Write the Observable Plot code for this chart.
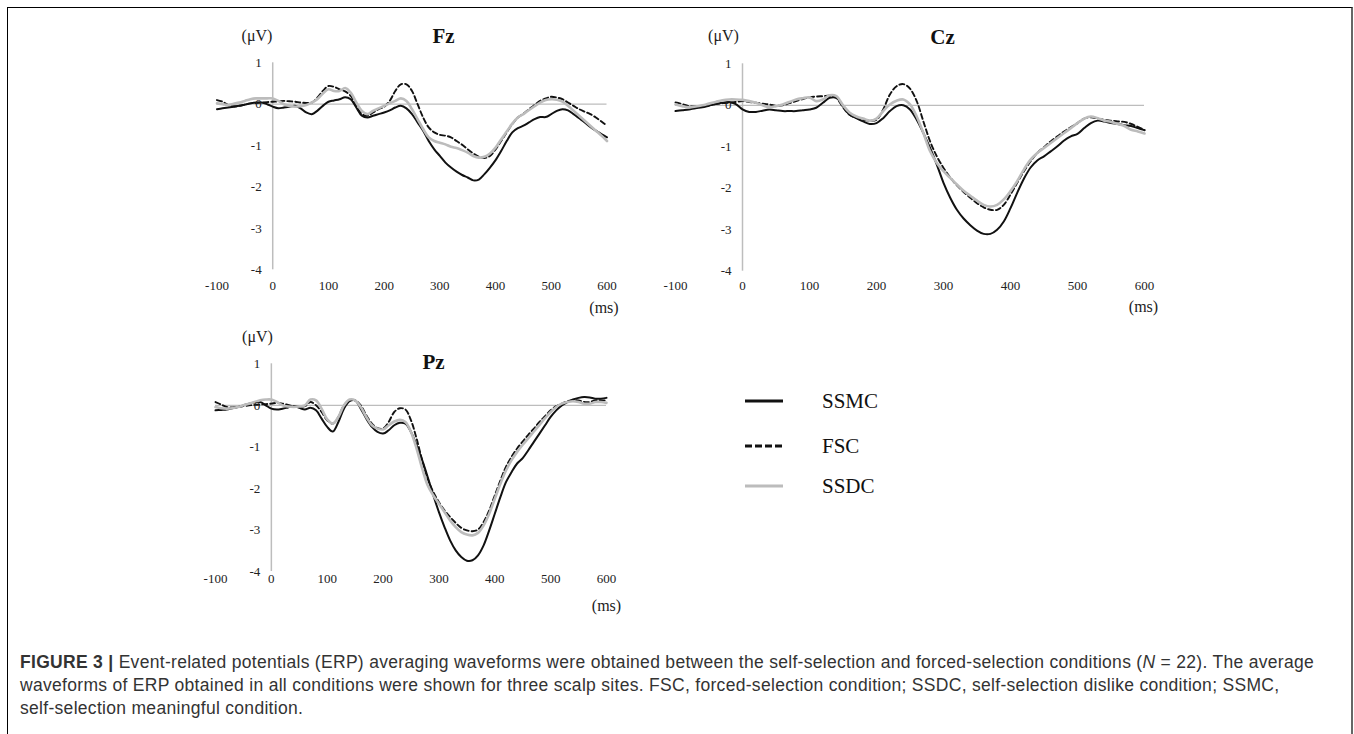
<!DOCTYPE html>
<html><head><meta charset="utf-8">
<script src="https://cdn.jsdelivr.net/npm/d3@7"></script>
<script src="https://cdn.jsdelivr.net/npm/@observablehq/plot@0.6"></script>
<style>
body{margin:0;background:#fff;}
#fig{position:relative;width:1354px;height:734px;overflow:hidden;background:#fff;}
#frame{position:absolute;left:7px;top:7px;width:1346px;height:780px;border:1.5px solid #000;border-right:2px solid #666;box-sizing:border-box;}
.panel{position:absolute;}
#legend{position:absolute;left:730px;top:370px;}
#caption{position:absolute;left:20px;top:651px;font-family:"Liberation Sans",Arial,sans-serif;font-size:17.5px;letter-spacing:0.3px;line-height:23px;color:#333;white-space:nowrap;}
</style></head><body>
<div id="fig">
<div id="frame"></div>
<div id="fz" class="panel" style="left:150px;top:0px"></div>
<div id="cz" class="panel" style="left:610px;top:0px"></div>
<div id="pz" class="panel" style="left:150px;top:320px"></div>
<div id="legend"></div>
<div id="caption"><b>FIGURE 3 |</b> Event-related potentials (ERP) averaging waveforms were obtained between the self-selection and forced-selection conditions (<i>N</i> = 22). The average<br>waveforms of ERP obtained in all conditions were shown for three scalp sites. FSC, forced-selection condition; SSDC, self-selection dislike condition; SSMC,<br>self-selection meaningful condition.</div>
</div>
<script>
const conditions = ["SSMC", "FSC", "SSDC"];
const xTicks = [-100, 0, 100, 200, 300, 400, 500, 600];
const yTicks = [1, 0, -1, -2, -3, -4];
const times = [-100,-90,-80,-70,-60,-50,-40,-30,-20,-10,
  0,10,20,30,40,50,60,70,80,90,
  100,110,120,130,140,150,160,170,180,190,
  200,210,220,230,240,250,260,270,280,290,
  300,310,320,330,340,350,360,370,380,390,
  400,410,420,430,440,450,460,470,480,490,
  500,510,520,530,540,550,560,570,580,590,600];

// Fz
const fzSSMC = [-0.12,-0.10,-0.08,-0.06,-0.04,-0.01,0.02,0.04,0.04,0.00,
  -0.06,-0.10,-0.08,-0.06,-0.04,-0.10,-0.20,-0.24,-0.16,-0.04,
  0.06,0.09,0.12,0.17,0.12,-0.08,-0.28,-0.32,-0.28,-0.24,
  -0.20,-0.15,-0.08,-0.04,-0.10,-0.24,-0.44,-0.64,-0.89,-1.09,
  -1.25,-1.41,-1.53,-1.63,-1.71,-1.77,-1.84,-1.82,-1.69,-1.53,
  -1.35,-1.13,-0.89,-0.68,-0.58,-0.52,-0.44,-0.36,-0.31,-0.31,
  -0.24,-0.16,-0.12,-0.15,-0.24,-0.34,-0.44,-0.55,-0.64,-0.72,-0.80];
const fzFSC = [0.10,0.06,-0.02,-0.05,-0.04,-0.01,0.02,0.03,0.04,0.05,
  0.06,0.07,0.08,0.07,0.06,0.04,0.03,0.04,0.16,0.32,
  0.44,0.42,0.36,0.31,0.20,-0.04,-0.24,-0.28,-0.20,-0.12,
  -0.06,0.08,0.32,0.48,0.48,0.32,0.00,-0.32,-0.56,-0.68,
  -0.74,-0.76,-0.80,-0.89,-0.98,-1.09,-1.19,-1.27,-1.30,-1.25,
  -1.09,-0.89,-0.68,-0.48,-0.32,-0.23,-0.12,-0.02,0.08,0.14,
  0.18,0.16,0.12,0.04,-0.04,-0.12,-0.18,-0.24,-0.32,-0.42,-0.52];
const fzSSDC = [0.02,0.00,-0.02,0.01,0.04,0.08,0.12,0.14,0.14,0.14,
  0.14,0.08,0.00,-0.04,-0.06,-0.05,-0.02,0.04,0.12,0.26,
  0.36,0.32,0.32,0.39,0.28,0.04,-0.16,-0.24,-0.16,-0.10,
  -0.04,0.02,0.08,0.14,0.08,-0.12,-0.36,-0.60,-0.80,-0.89,
  -0.93,-0.97,-1.03,-1.06,-1.11,-1.17,-1.25,-1.29,-1.27,-1.19,
  -1.05,-0.85,-0.66,-0.47,-0.32,-0.24,-0.14,-0.05,0.04,0.10,
  0.12,0.11,0.06,-0.04,-0.16,-0.28,-0.40,-0.52,-0.64,-0.76,-0.89];

// Cz
const czSSMC = [-0.14,-0.12,-0.10,-0.07,-0.05,-0.01,0.03,0.06,0.08,0.03,
  -0.10,-0.16,-0.16,-0.13,-0.10,-0.12,-0.14,-0.14,-0.14,-0.12,
  -0.10,-0.06,0.06,0.18,0.18,-0.02,-0.23,-0.31,-0.39,-0.45,
  -0.43,-0.31,-0.14,-0.02,0.00,-0.10,-0.35,-0.67,-1.03,-1.43,
  -1.87,-2.23,-2.52,-2.73,-2.89,-3.02,-3.10,-3.10,-3.00,-2.80,
  -2.48,-2.11,-1.77,-1.50,-1.33,-1.23,-1.11,-0.99,-0.85,-0.75,
  -0.69,-0.55,-0.43,-0.37,-0.39,-0.43,-0.45,-0.48,-0.50,-0.55,-0.60];
const czFSC = [0.07,0.03,-0.02,-0.03,-0.02,0.00,0.03,0.05,0.06,0.08,
  0.10,0.08,0.06,0.04,0.02,-0.01,0.00,0.05,0.10,0.15,
  0.19,0.21,0.22,0.23,0.18,-0.05,-0.23,-0.31,-0.35,-0.37,
  -0.35,-0.10,0.26,0.46,0.51,0.40,0.10,-0.39,-0.87,-1.23,
  -1.51,-1.74,-1.93,-2.09,-2.23,-2.36,-2.46,-2.52,-2.52,-2.40,
  -2.15,-1.87,-1.59,-1.35,-1.15,-1.01,-0.87,-0.75,-0.63,-0.53,
  -0.43,-0.32,-0.29,-0.32,-0.35,-0.37,-0.39,-0.40,-0.45,-0.52,-0.60];
const czSSDC = [0.02,-0.02,-0.05,-0.03,0.00,0.04,0.08,0.12,0.14,0.14,
  0.13,0.10,0.06,0.00,-0.05,-0.02,0.02,0.08,0.14,0.17,
  0.19,0.10,0.14,0.24,0.22,0.00,-0.18,-0.27,-0.32,-0.37,
  -0.32,-0.14,0.02,0.11,0.14,0.02,-0.27,-0.67,-1.11,-1.39,
  -1.59,-1.75,-1.91,-2.06,-2.18,-2.30,-2.40,-2.44,-2.40,-2.27,
  -2.07,-1.83,-1.55,-1.31,-1.15,-1.03,-0.91,-0.79,-0.67,-0.55,
  -0.43,-0.32,-0.27,-0.31,-0.37,-0.40,-0.45,-0.50,-0.59,-0.63,-0.68];

// Pz
const pzSSMC = [-0.12,-0.11,-0.10,-0.07,-0.04,0.00,0.04,0.07,0.08,0.00,
  -0.08,-0.10,-0.08,-0.05,-0.02,-0.06,-0.10,-0.06,-0.12,-0.32,
  -0.52,-0.63,-0.40,-0.08,0.10,0.12,-0.08,-0.32,-0.52,-0.64,
  -0.68,-0.60,-0.48,-0.42,-0.44,-0.64,-0.96,-1.32,-1.73,-2.17,
  -2.57,-2.93,-3.25,-3.49,-3.65,-3.74,-3.73,-3.61,-3.37,-3.01,
  -2.61,-2.21,-1.85,-1.61,-1.40,-1.27,-1.08,-0.88,-0.68,-0.48,
  -0.28,-0.12,0.00,0.08,0.14,0.18,0.20,0.19,0.16,0.16,0.18];
const pzFSC = [0.08,0.02,-0.04,-0.05,-0.04,-0.02,0.00,0.01,0.02,0.03,
  0.04,0.06,0.04,0.01,-0.02,-0.03,-0.02,0.08,0.00,-0.16,
  -0.36,-0.44,-0.28,0.00,0.12,0.12,0.00,-0.24,-0.44,-0.55,
  -0.56,-0.40,-0.16,-0.07,-0.10,-0.36,-0.80,-1.32,-1.77,-2.09,
  -2.33,-2.53,-2.69,-2.83,-2.95,-3.01,-3.03,-2.99,-2.81,-2.53,
  -2.17,-1.81,-1.48,-1.24,-1.04,-0.87,-0.71,-0.56,-0.40,-0.26,
  -0.12,-0.02,0.04,0.10,0.12,0.12,0.08,0.08,0.12,0.12,0.12];
const pzSSDC = [-0.04,-0.07,-0.08,-0.07,-0.04,0.00,0.04,0.08,0.12,0.14,
  0.14,0.08,0.00,-0.03,-0.04,-0.03,0.00,0.14,0.12,-0.08,
  -0.34,-0.44,-0.28,0.00,0.14,0.12,-0.04,-0.28,-0.48,-0.56,
  -0.58,-0.48,-0.39,-0.35,-0.40,-0.64,-1.04,-1.52,-1.93,-2.17,
  -2.37,-2.57,-2.77,-2.93,-3.05,-3.11,-3.13,-3.07,-2.89,-2.61,
  -2.25,-1.89,-1.57,-1.32,-1.12,-0.95,-0.79,-0.63,-0.47,-0.31,
  -0.16,-0.04,0.04,0.08,0.10,0.08,0.04,0.04,0.08,0.08,0.06];

const serif = "'Liberation Serif','Times New Roman',serif";
const styles = {
  SSMC: {stroke: "#111", strokeWidth: 2, dash: null},
  FSC: {stroke: "#111", strokeWidth: 1.9, dash: "5,3"},
  SSDC: {stroke: "#bcbcbc", strokeWidth: 2.6, dash: null}
};

function makePanel(cfg) {
  const lineMarks = conditions.map((c, i) => {
    const rows = cfg.series[i].map((v, j) => ({t: times[j], v}));
    const s = styles[c];
    return Plot.line(rows, {x: "t", y: "v", stroke: s.stroke, strokeWidth: s.strokeWidth,
      strokeDasharray: s.dash, curve: "catmull-rom"});
  });
  return Plot.plot({
    width: cfg.width, height: cfg.height,
    marginLeft: cfg.ml, marginRight: cfg.mr, marginTop: cfg.mt, marginBottom: cfg.mb,
    x: {domain: [-100, 600], axis: null},
    y: {domain: [-4, 1], axis: null},
    style: {background: "transparent", fontFamily: serif, overflow: "visible", color: "#222"},
    marks: [
      Plot.ruleY([0], {stroke: "#bdbdbd", strokeWidth: 1.3}),
      Plot.ruleX([0], {y1: -4, y2: 1, stroke: "#bdbdbd", strokeWidth: 1.5}),
      ...lineMarks,
      Plot.text(yTicks, {x: () => 0, y: d => d, text: d => String(d), textAnchor: "end", dx: -11,
        fontSize: 13, fill: "#222"}),
      Plot.text(xTicks, {x: d => d, frameAnchor: "bottom", dy: cfg.xdy, text: d => String(d),
        fontSize: 13, fill: "#222", lineAnchor: "middle"}),
      Plot.text([cfg.name], {frameAnchor: "top", dx: cfg.tdx, dy: cfg.tdy, fontSize: 21,
        fontWeight: "bold", fill: "#111", lineAnchor: "middle"}),
      Plot.text(["(μV)"], {frameAnchor: "top-left", dx: cfg.udx, dy: cfg.udy, fontSize: 16,
        fill: "#222", lineAnchor: "middle", textAnchor: "middle", letterSpacing: 2.5}),
      Plot.text(["(ms)"], {frameAnchor: "bottom-right", dx: cfg.mdx, dy: cfg.mdy, fontSize: 16,
        fill: "#222", lineAnchor: "middle", textAnchor: "middle", letterSpacing: 2})
    ]
  });
}

document.getElementById("fz").append(makePanel({
  name: "Fz", series: [fzSSMC, fzFSC, fzSSDC],
  width: 520, height: 320, ml: 66.5, mr: 63.5, mt: 62.3, mb: 50.7,
  xdy: 16, tdx: 31.5, tdy: -27, udx: 40, udy: -27, mdx: -3, mdy: 38
}));
document.getElementById("cz").append(makePanel({
  name: "Cz", series: [czSSMC, czFSC, czSSDC],
  width: 590, height: 320, ml: 65, mr: 56, mt: 63.3, mb: 49.3,
  xdy: 15, tdx: 32.5, tdy: -26.6, udx: 48, udy: -28, mdx: -1, mdy: 36
}));
document.getElementById("pz").append(makePanel({
  name: "Pz", series: [pzSSMC, pzFSC, pzSSDC],
  width: 520, height: 320, ml: 65, mr: 64, mt: 43.3, mb: 69,
  xdy: 7, tdx: 22.5, tdy: -1.6, udx: 42, udy: -26.5, mdx: 0, mdy: 34
}));

// Legend
const leg = d3.select("#legend").append("svg").attr("width", 260).attr("height", 140);
const legY = [31, 76, 116];
conditions.forEach((c, i) => {
  const s = styles[c];
  leg.append("line").attr("x1", 15).attr("x2", 53).attr("y1", legY[i]).attr("y2", legY[i])
    .attr("stroke", s.stroke).attr("stroke-width", 3.2)
    .attr("stroke-dasharray", s.dash ? "7,3" : null);
  leg.append("text").attr("x", 92).attr("y", legY[i]).attr("dy", "0.35em")
    .attr("font-family", serif).attr("font-size", 21).attr("fill", "#111").text(c);
});
</script>
</body></html>
